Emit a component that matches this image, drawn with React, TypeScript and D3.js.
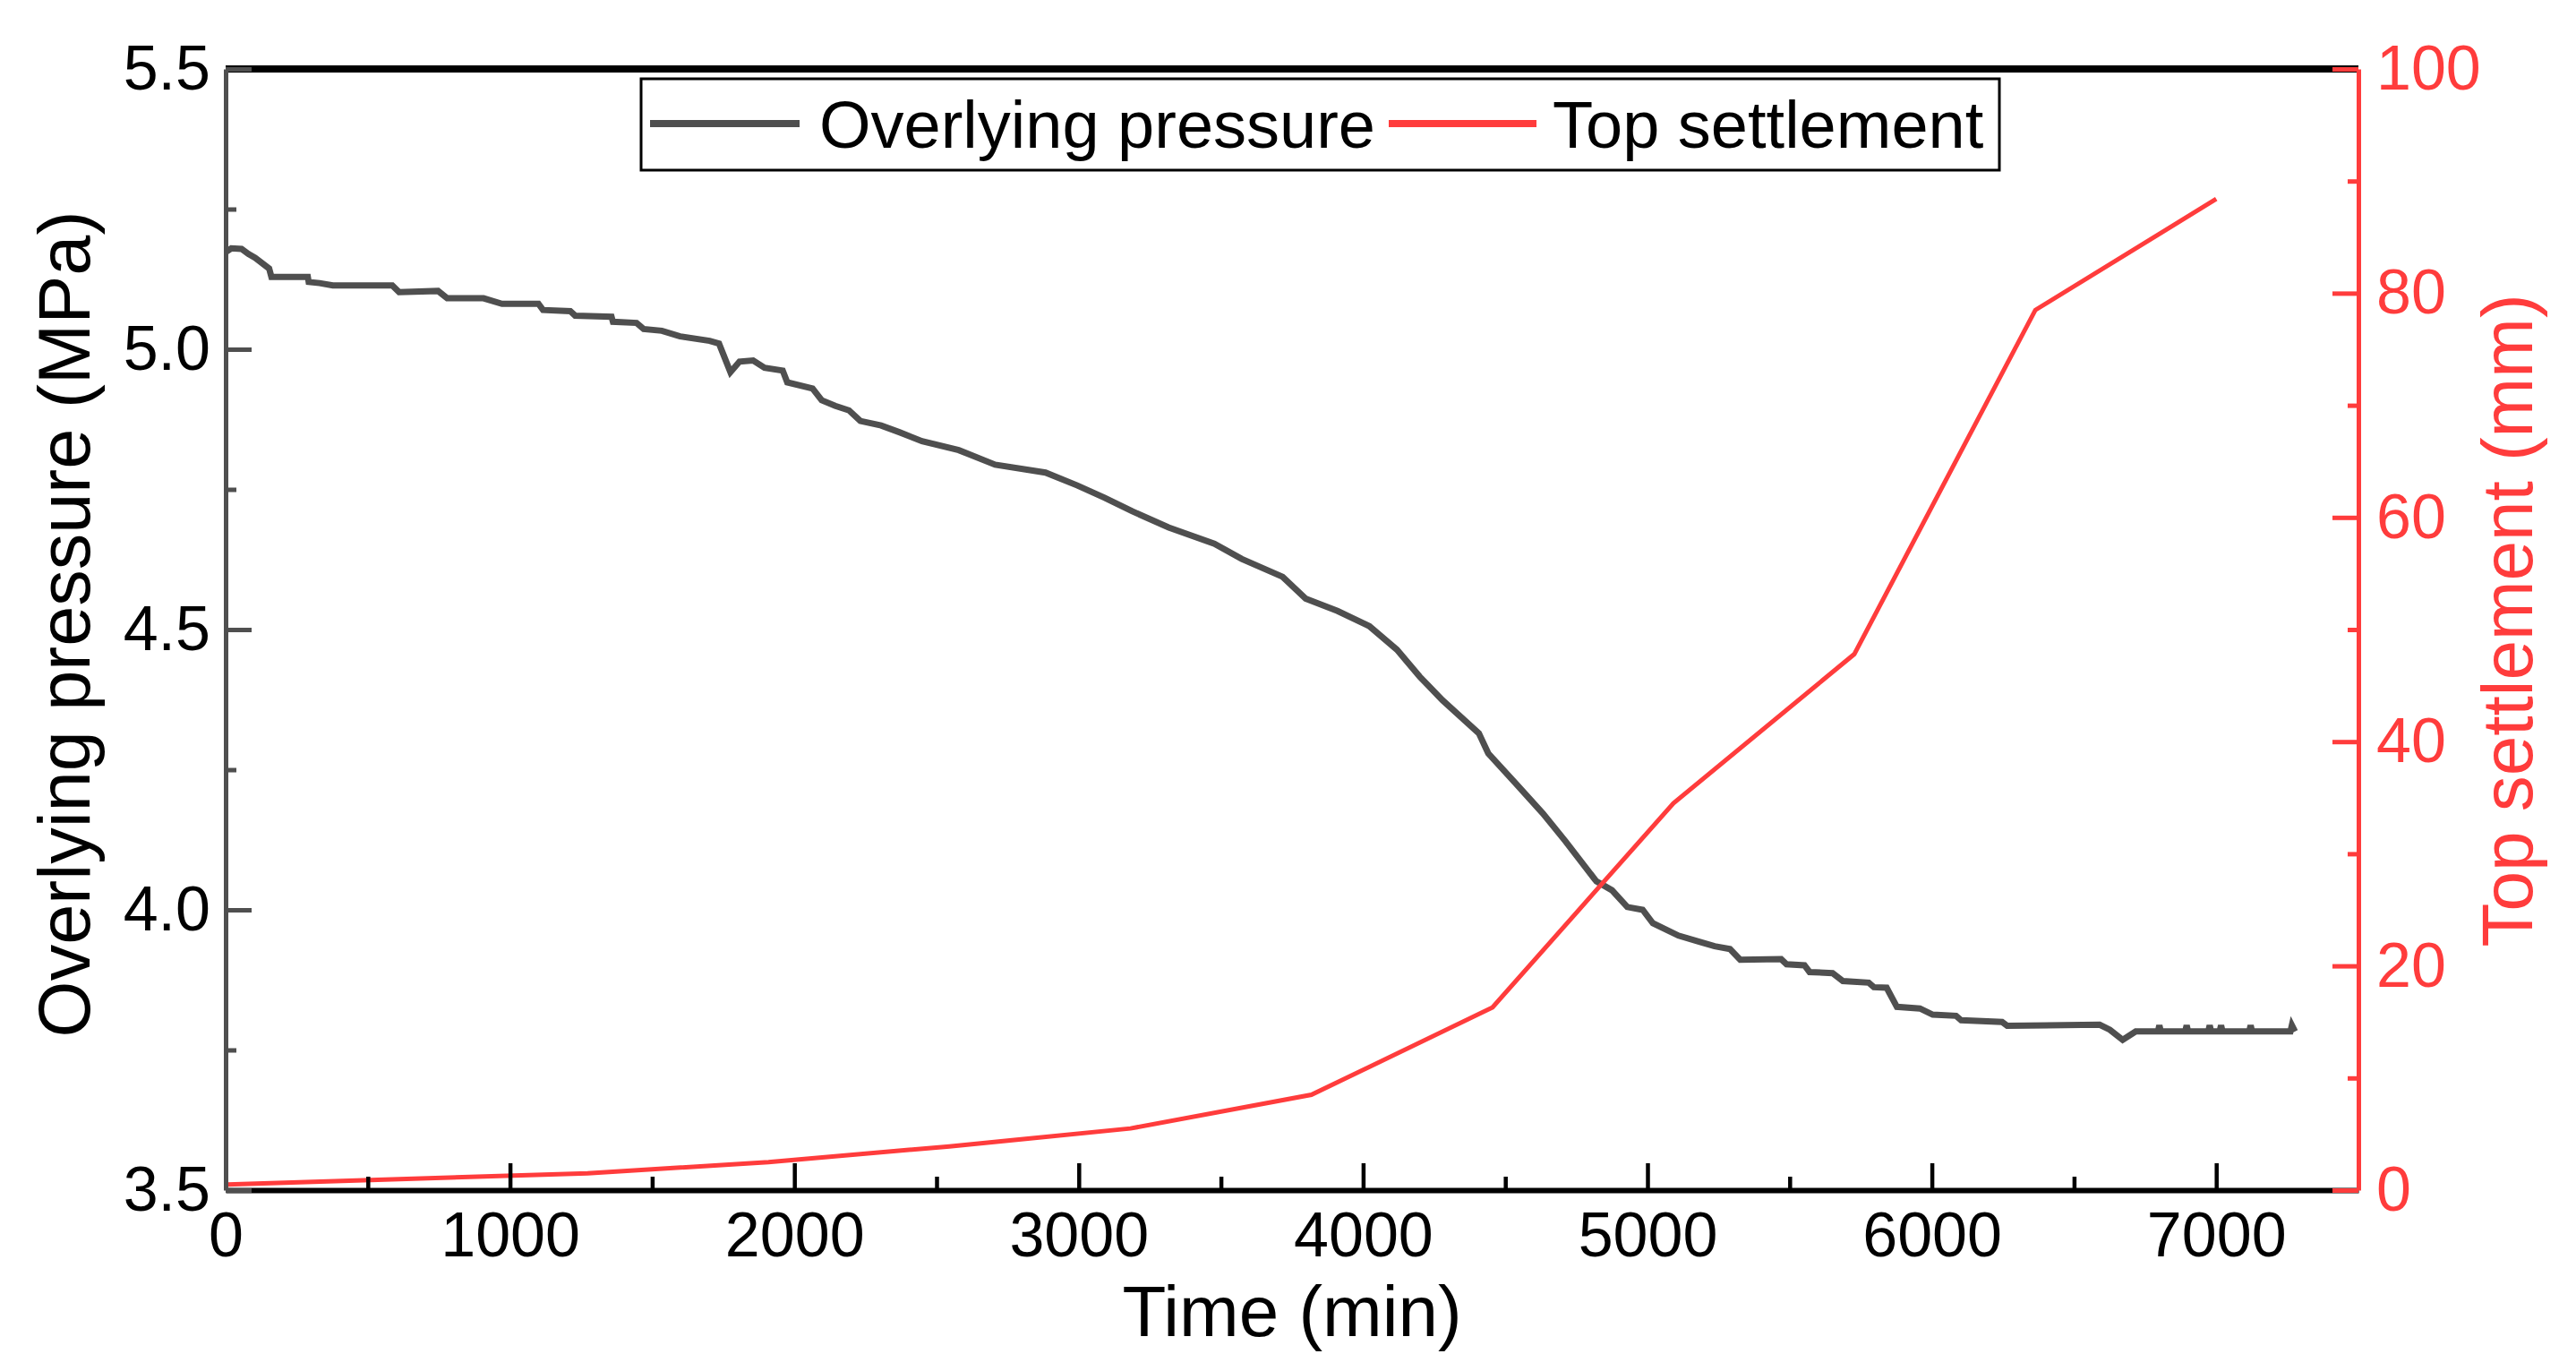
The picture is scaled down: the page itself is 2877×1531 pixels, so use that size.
import { useEffect, useRef } from "react";
import * as d3 from "d3";

// Overlying pressure (MPa), time in minutes
const pressureTime = [
  0, 20, 56, 80, 104, 153, 161, 289, 292, 330, 377, 586, 610, 747, 779, 907,
  972, 1100, 1116, 1212, 1229, 1357, 1362, 1445, 1470, 1534, 1598, 1702, 1735,
  1775, 1807, 1855, 1895, 1959, 1975, 2064, 2096, 2144, 2192, 2232, 2305, 2369,
  2449, 2578, 2706, 2883, 2995, 3091, 3188, 3316, 3477, 3573, 3717, 3798, 3910,
  4022, 4119, 4199, 4279, 4407, 4440, 4536, 4632, 4712, 4820, 4875, 4929, 4983,
  5019, 5109, 5182, 5236, 5290, 5326, 5470, 5489, 5552, 5570, 5651, 5687, 5778,
  5796, 5841, 5877, 5958, 6003, 6085, 6103, 6247, 6265, 6590, 6626, 6671, 6717,
  6795, 6800, 6805, 6891, 6896, 6901, 6972, 6977, 6982, 7012, 7017, 7022, 7116,
  7121, 7126, 7261, 7266, 7277,
];
const pressureValue = [
  5.173, 5.18, 5.179, 5.17, 5.163, 5.144, 5.129, 5.129, 5.12, 5.118, 5.114,
  5.114, 5.102, 5.104, 5.091, 5.091, 5.081, 5.081, 5.07, 5.068, 5.06, 5.058,
  5.049, 5.047, 5.036, 5.033, 5.023, 5.015, 5.01, 4.959, 4.978, 4.98, 4.967,
  4.962, 4.941, 4.93, 4.909, 4.899, 4.891, 4.872, 4.864, 4.852, 4.836, 4.82,
  4.794, 4.78, 4.757, 4.735, 4.711, 4.682, 4.653, 4.626, 4.594, 4.555, 4.533,
  4.506, 4.464, 4.416, 4.374, 4.315, 4.279, 4.226, 4.172, 4.122, 4.051, 4.035,
  4.005, 4.0, 3.976, 3.954, 3.943, 3.935, 3.93, 3.911, 3.912, 3.903, 3.901,
  3.889, 3.887, 3.873, 3.87, 3.862, 3.861, 3.827, 3.824, 3.813, 3.811, 3.803,
  3.8, 3.793, 3.795, 3.786, 3.768, 3.783,
  3.783, 3.794, 3.783, 3.783, 3.794, 3.783, 3.783, 3.794, 3.783, 3.783, 3.794,
  3.783, 3.783, 3.794, 3.783, 3.783, 3.794, 3.783,
];

// Top settlement (mm)
const settlementTime = [0, 636, 1273, 1909, 2545, 3182, 3818, 4455, 5091, 5727, 6364, 7000];
const settlementValue = [0.5, 1.0, 1.5, 2.5, 3.9, 5.5, 8.5, 16.3, 34.5, 47.8, 78.5, 88.4];

const timeTicks = [0, 1000, 2000, 3000, 4000, 5000, 6000, 7000];
const timeMinor = [500, 1500, 2500, 3500, 4500, 5500, 6500, 7500];
const pressureTicks = [3.5, 4.0, 4.5, 5.0, 5.5];
const pressureMinor = [3.75, 4.25, 4.75, 5.25];
const settlementTicks = [0, 20, 40, 60, 80, 100];
const settlementMinor = [10, 30, 50, 70, 90];

const GRAY = "#4f4f4f";
const RED = "#ff3c3c";
const FONT = "'Liberation Sans', Arial, sans-serif";

const App = () => {
  const svgRef = useRef<SVGSVGElement>(null);

  useEffect(() => {
    const width = 2877;
    const height = 1531;
    const margin = { top: 77, right: 243, bottom: 202, left: 252 };
    const w = width - margin.left - margin.right;
    const h = height - margin.top - margin.bottom;

    d3.select(svgRef.current).selectAll("*").remove();

    const svg = d3
      .select(svgRef.current)
      .attr("width", width)
      .attr("height", height)
      .attr("viewBox", `0 0 ${width} ${height}`)
      .style("background", "#fff")
      .style("font-family", FONT);

    const g = svg.append("g").attr("transform", `translate(${margin.left},${margin.top})`);

    const x = d3.scaleLinear().domain([0, 7500]).range([0, w]);
    const yL = d3.scaleLinear().domain([3.5, 5.5]).range([h, 0]);
    const yR = d3.scaleLinear().domain([0, 100]).range([h, 0]);

    const pressure = pressureTime.map((t, i) => [t, pressureValue[i]] as [number, number]);
    const settlement = settlementTime.map((t, i) => [t, settlementValue[i]] as [number, number]);

    g.append("path")
      .datum(pressure)
      .attr("fill", "none")
      .attr("stroke", GRAY)
      .attr("stroke-width", 7)
      .attr("stroke-linejoin", "miter")
      .attr("d", d3.line<[number, number]>().x((d) => x(d[0])).y((d) => yL(d[1])));

    g.append("path")
      .datum(settlement)
      .attr("fill", "none")
      .attr("stroke", RED)
      .attr("stroke-width", 5)
      .attr("d", d3.line<[number, number]>().x((d) => x(d[0])).y((d) => yR(d[1])));

    // top frame line
    g.append("line")
      .attr("x1", 0)
      .attr("x2", w)
      .attr("y1", 0)
      .attr("y2", 0)
      .attr("stroke", "#000")
      .attr("stroke-width", 8);

    // bottom axis
    const xAxis = g
      .append("g")
      .attr("transform", `translate(0,${h})`)
      .call(
        d3.axisBottom(x).tickValues(timeTicks).tickSizeInner(-30).tickSizeOuter(0).tickPadding(24).tickFormat(d3.format("d")),
      );
    g.append("g")
      .attr("transform", `translate(0,${h})`)
      .call(d3.axisBottom(x).tickValues(timeMinor).tickSizeInner(-15).tickSizeOuter(0).tickFormat(() => ""))
      .call((s) => s.select(".domain").remove())
      .selectAll("line")
      .attr("stroke", "#000")
      .attr("stroke-width", 4.5);
    xAxis.select(".domain").attr("stroke", "#000").attr("stroke-width", 6);
    xAxis.selectAll("line").attr("stroke", "#000").attr("stroke-width", 4.5);
    xAxis.selectAll("text").attr("font-size", 70).attr("font-family", FONT).attr("fill", "#000");

    // left axis
    const yAxisL = g
      .append("g")
      .call(
        d3.axisLeft(yL).tickValues(pressureTicks).tickSizeInner(-29).tickSizeOuter(0).tickPadding(17).tickFormat(d3.format(".1f")),
      );
    g.append("g")
      .call(d3.axisLeft(yL).tickValues(pressureMinor).tickSizeInner(-12).tickSizeOuter(0).tickFormat(() => ""))
      .call((s) => s.select(".domain").remove())
      .selectAll("line")
      .attr("stroke", GRAY)
      .attr("stroke-width", 5);
    yAxisL.select(".domain").attr("stroke", GRAY).attr("stroke-width", 5);
    yAxisL.selectAll("line").attr("stroke", GRAY).attr("stroke-width", 5);
    yAxisL.selectAll("text").attr("font-size", 70).attr("font-family", FONT).attr("fill", "#000");

    // right axis
    const yAxisR = g
      .append("g")
      .attr("transform", `translate(${w},0)`)
      .call(d3.axisRight(yR).tickValues(settlementTicks).tickSizeInner(-29).tickSizeOuter(0).tickPadding(20));
    g.append("g")
      .attr("transform", `translate(${w},0)`)
      .call(d3.axisRight(yR).tickValues(settlementMinor).tickSizeInner(-12).tickSizeOuter(0).tickFormat(() => ""))
      .call((s) => s.select(".domain").remove())
      .selectAll("line")
      .attr("stroke", RED)
      .attr("stroke-width", 5);
    yAxisR.select(".domain").attr("stroke", RED).attr("stroke-width", 5);
    yAxisR.selectAll("line").attr("stroke", RED).attr("stroke-width", 5);
    yAxisR.selectAll("text").attr("font-size", 70).attr("font-family", FONT).attr("fill", RED);

    // axis titles
    svg
      .append("text")
      .attr("x", margin.left + w / 2)
      .attr("y", 1492)
      .attr("text-anchor", "middle")
      .attr("font-size", 80)
      .attr("fill", "#000")
      .text("Time (min)");

    svg
      .append("text")
      .attr("transform", `translate(100,697) rotate(-90)`)
      .attr("text-anchor", "middle")
      .attr("font-size", 81)
      .attr("fill", "#000")
      .text("Overlying pressure (MPa)");

    svg
      .append("text")
      .attr("transform", `translate(2828,693) rotate(-90)`)
      .attr("text-anchor", "middle")
      .attr("font-size", 80)
      .attr("fill", RED)
      .text("Top settlement (mm)");

    // legend
    const legend = svg.append("g");
    legend
      .append("rect")
      .attr("x", 716)
      .attr("y", 88)
      .attr("width", 1517)
      .attr("height", 102)
      .attr("fill", "#fff")
      .attr("stroke", "#000")
      .attr("stroke-width", 3);

    const items = [
      { label: "Overlying pressure", color: GRAY, x0: 726, x1: 893, tx: 915 },
      { label: "Top settlement", color: RED, x0: 1551, x1: 1716, tx: 1734 },
    ];
    const item = legend.selectAll("g.item").data(items).join("g").attr("class", "item");
    item
      .append("line")
      .attr("x1", (d) => d.x0)
      .attr("x2", (d) => d.x1)
      .attr("y1", 138)
      .attr("y2", 138)
      .attr("stroke", (d) => d.color)
      .attr("stroke-width", 8);
    item
      .append("text")
      .attr("x", (d) => d.tx)
      .attr("y", 165)
      .attr("font-size", 74)
      .attr("fill", "#000")
      .text((d) => d.label);
  }, []);

  return (
    <div style={{ position: "absolute", left: 0, top: 0, background: "#fff" }}>
      <svg ref={svgRef} style={{ display: "block" }}></svg>
    </div>
  );
};

export default App;
